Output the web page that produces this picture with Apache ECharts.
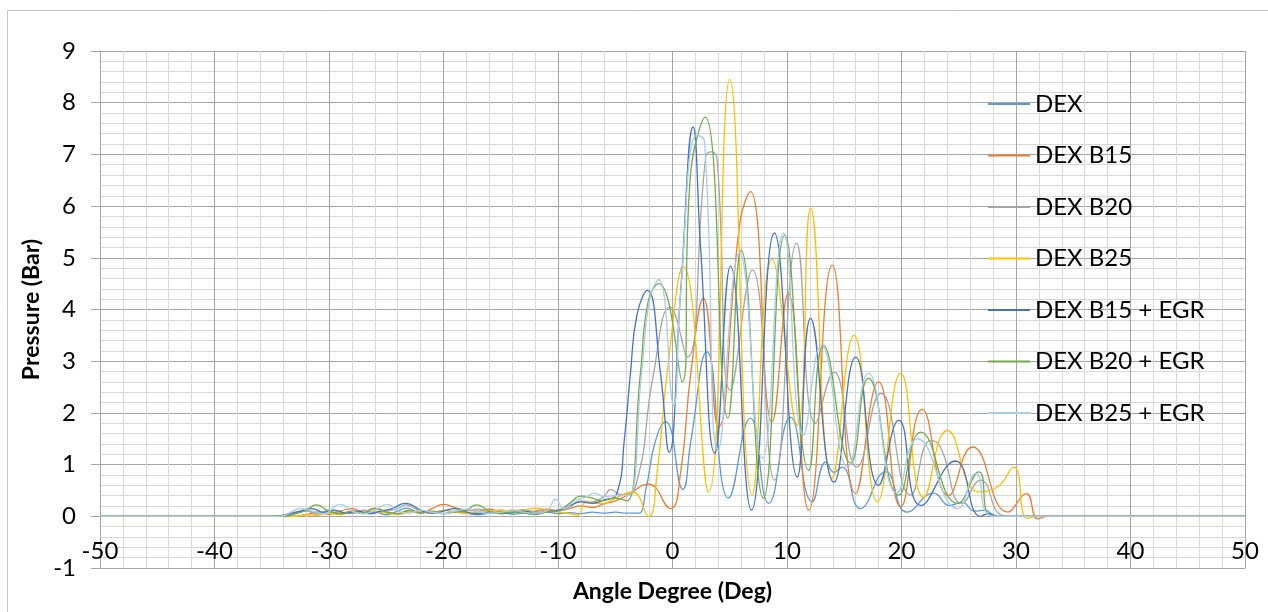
<!DOCTYPE html>
<html>
<head>
<meta charset="utf-8">
<script src="https://cdn.jsdelivr.net/npm/echarts@6/dist/echarts.min.js"></script>
<style>
html,body{margin:0;padding:0;background:#fff;}
#chart{width:1268px;height:612px;}
</style>
</head>
<body>
<div id="chart"></div>
<script>
const seriesNames = ['DEX', 'DEX B15', 'DEX B20', 'DEX B25', 'DEX B15 + EGR', 'DEX B20 + EGR', 'DEX B25 + EGR'];
const seriesColors = ['#5B9BD5', '#ED7D31', '#A5A5A5', '#FFC000', '#4472C4', '#70AD47', '#A9CCEB'];

const dex = [[-50,0],[-35,0],[-34,0.02],[-33,0.06],[-32,0.12],[-31,0.05],[-30,0.09],[-29,0.04],[-28,0.1],[-27,0.05],[-26,0.08],[-25,0.03],[-24,0.1],[-23.2,0.16],[-22,0.06],[-21,0.09],[-20,0.05],[-19,0.1],[-18,0.06],[-17,0.03],[-16,0.06],[-15,0.08],[-14,0.04],[-13,0.06],[-12,0.04],[-11,0.08],[-10,0.05],[-9,0.07],[-8,0.05],[-7,0.08],[-6,0.06],[-5,0.08],[-4,0.06],[-3,0.06],[-2.3,0.55],[-1.5,1.45],[-0.6,1.83],[0.9,0.52],[1.6,1.45],[3.0,3.18],[4.9,0.35],[6.8,1.9],[8.4,0.25],[10.3,1.92],[12.2,0.28],[13.4,1.05],[14.1,0.85],[14.8,0.95],[16.4,0.15],[18.6,0.86],[20.5,0.08],[22.8,0.45],[24.2,0.21],[25.3,0.27],[26.4,0.1],[27.3,0.12],[28.2,0],[50,0]];

const dexB15 = [[-50,0],[-35,0],[-33.5,0],[-32,0.03],[-31,0.08],[-30,0.04],[-29,0.1],[-28,0.15],[-27,0.08],[-26,0.16],[-25,0.09],[-24,0.05],[-23,0.1],[-22,0.07],[-21,0.15],[-20,0.23],[-19,0.17],[-18,0.12],[-17,0.1],[-16,0.14],[-15,0.09],[-14,0.12],[-13,0.08],[-12,0.1],[-11,0.14],[-10,0.11],[-9,0.15],[-8,0.2],[-7,0.17],[-6,0.24],[-5,0.3],[-4,0.4],[-2.1,0.62],[-0.2,0.15],[0.7,0.83],[1.6,2.77],[2.7,4.22],[4.0,1.72],[5.9,5.7],[6.8,6.28],[8.7,1.83],[10.1,4.31],[11.9,0.12],[13.95,4.86],[16.0,0.44],[18.0,2.6],[19.93,0.18],[21.8,2.07],[24.1,0.4],[26.2,1.34],[29.3,0.08],[30.9,0.44],[31.9,-0.05],[32.7,0],[50,0]];

const dexB20 = [[-50,0],[-35,0],[-34,0.01],[-33,0.05],[-32,0.1],[-31,0.04],[-30,0.12],[-29,0.08],[-28,0.05],[-27,0.12],[-26,0.07],[-25,0.1],[-24,0.15],[-23.3,0.22],[-22,0.1],[-21,0.06],[-20,0.12],[-19,0.08],[-18,0.1],[-17,0.14],[-16,0.09],[-15,0.12],[-14,0.1],[-13,0.13],[-12,0.09],[-11,0.12],[-10,0.1],[-9,0.18],[-8,0.3],[-7,0.28],[-6,0.38],[-5.4,0.52],[-4.5,0.42],[-3.2,0.6],[-1.7,2.7],[-0.2,4.05],[1.28,3.08],[2.9,6.95],[3.4,7.05],[3.9,6.9],[5.07,2.44],[6.97,4.76],[8.9,0.7],[10.84,5.28],[12.5,1.8],[14.1,2.79],[16.1,0.95],[18.2,2.38],[20.8,0.41],[22.55,1.47],[23.4,1.34],[25.3,0.25],[26.9,0.7],[28.8,0.02],[30,0],[50,0]];

const dexB25 = [[-50,0],[-35,0],[-33,0],[-32,0.03],[-31,0.02],[-30,0.06],[-29,0.03],[-28,0.08],[-27,0.05],[-26,0.1],[-25,0.06],[-24,0.04],[-23,0.08],[-22,0.1],[-21,0.06],[-20,0.12],[-19,0.08],[-18,0.05],[-17,0.08],[-16,0.1],[-15,0.12],[-14,0.09],[-13,0.12],[-12,0.16],[-11,0.12],[-10,0.08],[-9,0.05],[-8.3,0.02],[-7.5,0.28],[-6,0.25],[-5,0.35],[-3.5,0.47],[-2.1,0.0],[-1.35,0.83],[-0.47,2.77],[0.96,4.83],[3.15,0.47],[5.0,8.45],[6.97,0.41],[8.7,4.97],[10.9,1.76],[12.06,5.96],[13.95,0.73],[15.85,3.5],[17.9,0.28],[19.93,2.77],[21.94,0.37],[24.0,1.66],[26.75,0.47],[28.4,0.57],[29.8,0.95],[31.0,-0.04],[32,0],[50,0]];

const dexB15Egr = [[-50,0],[-35,0],[-34.5,0],[-33.5,0.05],[-32.5,0.1],[-31.5,0.15],[-30.5,0.08],[-29.5,0.12],[-28.5,0.06],[-27.5,0.1],[-26.5,0.05],[-25.5,0.1],[-24.5,0.15],[-23.3,0.25],[-22,0.12],[-21,0.06],[-20,0.1],[-19,0.15],[-18,0.08],[-17,0.05],[-16,0.08],[-15,0.05],[-14,0.07],[-13,0.1],[-12,0.06],[-11,0.09],[-10,0.12],[-9,0.2],[-8,0.28],[-7,0.25],[-6.2,0.3],[-4.85,0.45],[-4.2,1.5],[-3.67,2.77],[-3.1,3.9],[-2.2,4.37],[-1.05,2.77],[-0.3,1.24],[0.7,4.3],[1.8,7.53],[2.45,5.2],[3.7,1.22],[5.07,4.84],[6.9,0.12],[8.9,5.48],[10.9,0.76],[12.06,3.83],[14.1,0.66],[16.0,3.08],[18.0,0.6],[19.76,1.86],[21.7,0.21],[24.7,1.07],[26.9,0.0],[27.6,0.05],[28.5,0],[50,0]];

const dexB20Egr = [[-50,0],[-35,0],[-34,0],[-33,0.04],[-32,0.12],[-31.1,0.22],[-30,0.1],[-29,0.05],[-28,0.1],[-27,0.06],[-26,0.15],[-25,0.08],[-24,0.05],[-23,0.12],[-22,0.06],[-21,0.1],[-20,0.05],[-19,0.08],[-18,0.12],[-17.1,0.22],[-16,0.1],[-15,0.05],[-14,0.08],[-13,0.06],[-12,0.04],[-11,0.08],[-10,0.1],[-9,0.25],[-8,0.39],[-7,0.35],[-6.2,0.3],[-5,0.35],[-4,0.3],[-2.8,2.77],[-2.1,4.18],[-1.2,4.5],[0.84,2.6],[1.57,6.6],[2.86,7.72],[4.84,1.9],[6.0,5.15],[7.93,0.35],[9.8,5.44],[11.9,0.89],[13.2,3.3],[15.56,1.03],[17.1,2.67],[19.76,0.41],[21.68,1.63],[24.9,0.25],[26.75,0.86],[27.9,0],[50,0]];

const dexB25Egr = [[-50,0],[-35,0],[-34.3,0],[-33.5,0.06],[-32.5,0.15],[-31.5,0.1],[-30.5,0.05],[-29,0.23],[-28,0.1],[-27,0.05],[-26,0.12],[-24.9,0.23],[-24,0.1],[-23,0.06],[-22,0.12],[-21,0.08],[-20,0.05],[-19,0.1],[-18,0.14],[-17,0.1],[-16,0.06],[-15,0.08],[-14,0.12],[-13,0.08],[-12,0.06],[-11,0.1],[-10.2,0.33],[-9.5,0.15],[-8.5,0.3],[-7.5,0.38],[-6.8,0.45],[-6,0.38],[-5,0.4],[-3.9,0.4],[-2.7,2.77],[-2.0,4.2],[-1.2,4.58],[0.1,2.15],[0.7,4.3],[2.15,7.37],[2.8,7.25],[4.0,1.28],[5.86,5.09],[7.84,1.12],[9.7,5.48],[11.45,1.57],[13.0,3.3],[15.3,0.95],[17.1,2.77],[19.6,0.45],[21.4,1.5],[24.9,0.15],[26.5,0.83],[28,0],[50,0]];

const seriesData = [dex, dexB15, dexB20, dexB25, dexB15Egr, dexB20Egr, dexB25Egr];

const xMin = -50, xMax = 50, xStep = 10;
const yMin = -1, yMax = 9, yStep = 1;

const FONT = 'Lato';
const chart = echarts.init(document.getElementById('chart'), null, {renderer: 'canvas'});
const option = {
  animation: false,
  backgroundColor: '#fff',
  textStyle: {fontFamily: FONT},
  graphic: [{
    type: 'rect', silent: true, z: -10,
    shape: {x: 7.5, y: 10.5, width: 1400, height: 800},
    style: {fill: 'none', stroke: '#C4C4C4', lineWidth: 1}
  }],
  grid: {left: 100, right: 23, top: 51, bottom: 44, containLabel: false, outerBoundsMode: 'none'},
  legend: {
    orient: 'vertical', left: 983, top: 87, itemGap: 27.5,
    itemWidth: 42, itemHeight: 2, icon: 'rect',
    textStyle: {fontFamily: FONT, fontSize: 24, color: '#000'},
    data: seriesNames
  },
  xAxis: {
    type: 'value', min: xMin, max: xMax, interval: xStep,
    axisLine: {show: true, onZero: false, lineStyle: {color: '#A6A6A6'}},
    axisTick: {show: false},
    axisLabel: {fontSize: 24, color: '#000', margin: -29, fontFamily: FONT},
    splitLine: {show: true, lineStyle: {color: '#A6A6A6', width: 1}},
    minorTick: {show: false, splitNumber: 5},
    minorSplitLine: {show: true, lineStyle: {color: '#D9D9D9', width: 1}},
    name: 'Angle Degree (Deg)', nameLocation: 'middle', nameGap: 12, nameMoveOverlap: false,
    nameTextStyle: {fontSize: 23, fontWeight: 'bold', color: '#000', fontFamily: FONT}
  },
  yAxis: {
    type: 'value', min: yMin, max: yMax, interval: yStep,
    axisLine: {show: true, onZero: false, lineStyle: {color: '#A6A6A6'}},
    axisTick: {show: true, length: 9, lineStyle: {color: '#A6A6A6'}},
    axisLabel: {fontSize: 24, color: '#000', margin: 24, fontFamily: FONT},
    splitLine: {show: true, lineStyle: {color: '#A6A6A6', width: 1}},
    minorTick: {show: false, splitNumber: 5},
    minorSplitLine: {show: true, lineStyle: {color: '#D9D9D9', width: 1}},
    name: 'Pressure (Bar)', nameLocation: 'middle', nameGap: 57, nameMoveOverlap: false,
    nameTextStyle: {fontSize: 23, fontWeight: 'bold', color: '#000', fontFamily: FONT}
  },
  series: seriesNames.map((n, i) => ({
    name: n, type: 'line', data: seriesData[i],
    smooth: 0.5, symbol: 'none', showSymbol: false,
    lineStyle: {color: seriesColors[i], width: 1.3},
    itemStyle: {color: seriesColors[i]}
  }))
};
chart.setOption(option);
</script>
</body>
</html>
